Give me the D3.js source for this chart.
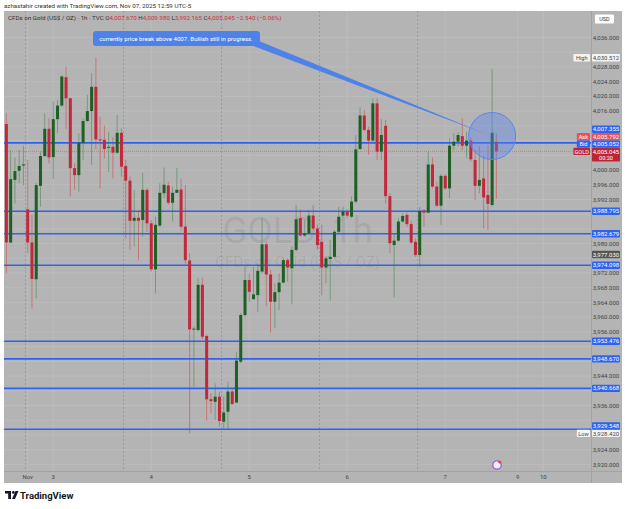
<!DOCTYPE html>
<html>
<head>
<meta charset="utf-8">
<script src="https://cdn.jsdelivr.net/npm/d3@7"></script>
<style>
  body { margin: 0; background: #fff; }
  text { font-family: Roboto, "Noto Sans", sans-serif; }
</style>
</head>
<body>
<script>
// GOLD 1h candles, Oct 31 12:00 -> Nov 7 12:00 (bar index 1..116)
const opens = [4012.5,3980.3,3997.3,3999.8,4001.2,3989.3,3980.3,3970.3,3995.7,4003.8,
  4011.2,4003.5,4013.8,4017.5,4025.2,4019.5,4000.5,3998.6,4007.4,4013.3,
  4016.0,4022.6,4008.3,4008.2,4006.1,4006.3,4004.7,4010.1,4001.1,3997.1,
  3986.2,3987.0,3986.4,3994.6,3985.5,3973.0,3984.9,3993.7,3995.8,3991.1,
  3993.8,3994.7,3984.6,3975.4,3956.7,3956.5,3968.8,3954.9,3937.7,3937.0,
  3938.4,3931.6,3934.3,3939.8,3936.8,3947.9,3960.6,3970.1,3964.9,3966.0,
  3972.4,3979.8,3971.6,3964.2,3966.8,3969.4,3975.5,3973.3,3978.3,3986.9,
  3982.2,3982.8,3987.6,3984.1,3980.5,3973.5,3975.8,3976.4,3983.2,3987.6,
  3988.7,3987.3,3991.4,4005.7,4014.8,4010.9,4008.0,4018.1,4005.0,4012.0,
  3992.9,3979.6,3980.8,3986.0,3987.8,3985.3,3980.5,3976.9,3989.0,3988.4,
  4001.5,3995.5,3990.3,3998.4,3995.0,4006.6,4007.7,4009.2,4006.6,4008.0,
  4002.7,3995.7,3997.7,3993.2,3990.5,4007.67];
const highs = [4015.4,4005.4,4003.4,4005.4,4006.6,4002.7,3987.8,3996.5,4005.0,4015.4,
  4014.0,4018.6,4019.0,4025.8,4028.1,4019.6,4001.8,4010.0,4014.0,4020.4,
  4026.3,4030.512,4014.5,4012.1,4010.4,4008.9,4014.9,4011.3,4002.7,3998.2,
  3994.6,3989.1,3999.3,3995.0,3986.4,3987.3,3996.4,4000.7,3996.8,3995.5,
  4000.5,3997.7,3995.9,3977.4,3957.5,3970.7,3970.7,3955.2,3939.3,3942.0,
  3939.8,3938.4,3942.5,3940.7,3950.6,3961.1,3973.7,3971.9,3973.7,3974.6,
  3986.9,3980.5,3972.8,3969.2,3971.9,3976.0,3976.0,3979.2,3990.5,3989.3,
  3986.4,3989.1,3990.5,3985.1,3985.1,3976.6,3981.0,3983.7,3990.0,3990.0,
  3989.3,3992.8,4009.5,4017.0,4016.3,4011.8,4019.5,4019.5,4013.8,4013.6,
  3993.7,3982.8,3986.9,3988.2,3988.4,3986.2,3981.4,3990.0,3989.3,4005.0,
  4003.4,3996.8,3998.9,3998.9,4008.6,4010.0,4010.4,4014.0,4010.4,4008.9,
  4005.4,4006.5,4004.1,4006.8,4027.4,4009.98];
const lows = [3971.9,3980.1,3990.9,3996.4,3995.9,3977.4,3962.4,3965.1,3990.0,4003.6,
  4001.8,3997.5,4010.0,4017.2,4011.1,3992.8,3994.6,3994.1,4002.7,4013.1,
  4001.4,4005.6,3995.0,4003.2,3999.5,3997.7,4004.5,3998.2,3981.4,3978.3,
  3979.2,3975.4,3981.9,3983.2,3972.4,3966.5,3984.6,3992.3,3990.5,3986.0,
  3993.7,3983.7,3974.6,3928.42,3941.1,3956.1,3954.0,3931.9,3933.9,3932.1,
  3930.3,3929.8,3929.3,3936.1,3936.6,3947.5,3960.1,3964.2,3964.7,3961.5,
  3971.9,3963.0,3955.8,3957.0,3962.0,3969.2,3969.7,3963.5,3977.8,3981.9,
  3981.9,3982.3,3983.7,3978.3,3966.0,3969.2,3964.5,3976.0,3982.8,3986.9,
  3986.9,3986.9,3990.9,4005.4,4010.4,4004.1,4007.7,4002.7,4002.7,3990.9,
  3977.4,3965.4,3980.5,3985.7,3984.6,3979.9,3976.4,3973.7,3984.6,3988.2,
  3995.0,3990.0,3985.1,3994.6,3992.3,4005.4,4006.3,4005.4,4003.2,4002.3,
  3991.8,3993.7,3984.1,3983.7,3990.0,3992.165];
const closes = [3980.3,3997.5,3999.7,4001.1,4001.5,3980.3,3970.4,3995.9,4003.8,4011.2,
  4003.4,4013.8,4017.5,4025.4,4019.5,4000.5,3998.6,4007.4,4013.3,4016.0,
  4022.6,4008.3,4008.0,4005.7,4006.3,4004.7,4010.1,4000.9,3997.1,3986.2,
  3987.0,3986.2,3994.6,3985.5,3973.0,3985.1,3993.8,3996.0,3991.1,3993.8,
  3994.6,3984.6,3975.5,3956.7,3956.9,3968.8,3954.7,3937.7,3937.2,3938.4,
  3931.8,3934.1,3939.8,3936.4,3948.2,3960.6,3970.1,3966.9,3966.2,3972.6,
  3979.8,3971.6,3964.2,3966.8,3969.4,3975.5,3973.5,3978.3,3986.6,3982.2,
  3982.8,3987.6,3984.1,3979.6,3973.5,3976.0,3976.4,3983.2,3987.3,3988.7,
  3987.6,3991.4,4005.6,4014.8,4010.9,4008.0,4018.1,4005.0,4009.5,3992.9,
  3980.1,3980.8,3986.0,3987.5,3985.3,3980.3,3976.9,3988.9,3988.4,4001.5,
  3995.5,3990.3,3998.4,3995.0,4006.6,4007.7,4009.5,4006.6,4008.0,4002.9,
  3995.7,3997.3,3992.5,3990.8,4010.1,4005.045];

const hLevels = [3988.795, 3982.679, 3974.098, 3953.476, 3948.670, 3940.668, 3929.548];
const markedLevel = 4007.355;
const askPrice = 4005.792, bidPrice = 4005.052, lastPrice = 4005.045;
const prevClose = 3977.030;
const highValue = 4030.512, lowValue = 3928.420;
const priceTicks = [3920,3924,3928,3932,3936,3940,3944,3948,3952,3956,3960,3964,3968,3972,3976,3980,
  3984,3988,3992,3996,4000,4004,4008,4012,4016,4020,4024,4028,4032,4036];
const timeLabels = ["Nov", "3", "4", "5", "6", "7", "9", "10"];
const timeLabelBars = [6, 12, 35, 58, 81, 104, 121, 127];
const sessionStarts = [6, 29, 52, 75, 98];

const width = 625, height = 509;
const panel = { left: 4, right: 622, top: 11, bottom: 483 };
const plot = { left: 4, right: 591, top: 11, bottom: 471 };

const svg = d3.select("body").append("svg")
    .attr("width", width)
    .attr("height", height);

svg.append("rect").attr("width", width).attr("height", height).attr("fill", "#fff");

const x = d3.scaleLinear().domain([1, 116]).range([6.4, 496.4]);
const y = d3.scaleLinear().domain([3920, 4036]).range([464.4, 37.5]);

// header
svg.append("text")
    .attr("x", 4).attr("y", 7.5)
    .attr("font-size", 6.2).attr("fill", "#333")
    .text("azhastahir created with TradingView.com, Nov 07, 2025 12:59 UTC-5");

svg.append("rect")
    .attr("x", panel.left).attr("y", panel.top)
    .attr("width", panel.right - panel.left).attr("height", panel.bottom - panel.top)
    .attr("fill", "#b4b4b4");

svg.append("clipPath").attr("id", "plotclip")
    .append("rect")
    .attr("x", plot.left).attr("y", plot.top)
    .attr("width", plot.right - plot.left).attr("height", plot.bottom - plot.top);

const g = svg.append("g").attr("clip-path", "url(#plotclip)");

// grid
g.selectAll(".hgrid").data(priceTicks).enter().append("line")
    .attr("x1", plot.left).attr("x2", plot.right)
    .attr("y1", d => y(d)).attr("y2", d => y(d))
    .attr("stroke", "#bcbcbc").attr("stroke-width", 1);

g.selectAll(".vgrid").data(timeLabelBars).enter().append("line")
    .attr("x1", d => x(d)).attr("x2", d => x(d))
    .attr("y1", plot.top).attr("y2", plot.bottom)
    .attr("stroke", "#bcbcbc").attr("stroke-width", 1);

// session breaks
g.selectAll(".sess").data(sessionStarts).enter().append("line")
    .attr("x1", d => x(d - 0.5)).attr("x2", d => x(d - 0.5))
    .attr("y1", plot.top).attr("y2", plot.bottom)
    .attr("stroke", "#7d9ae2").attr("stroke-width", 1)
    .attr("stroke-dasharray", "2,2");

// watermark
g.append("text")
    .attr("x", (plot.left + plot.right) / 2).attr("y", 243)
    .attr("text-anchor", "middle").attr("font-size", 37)
    .attr("fill", "#000").attr("fill-opacity", 0.08)
    .text("GOLD, 1h");
g.append("text")
    .attr("x", (plot.left + plot.right) / 2).attr("y", 266.5)
    .attr("text-anchor", "middle").attr("font-size", 15)
    .attr("fill", "#000").attr("fill-opacity", 0.08)
    .text("CFDs on Gold (US$ / OZ)");

// horizontal levels
g.selectAll(".level").data(hLevels.concat([markedLevel])).enter().append("line")
    .attr("x1", plot.left).attr("x2", plot.right)
    .attr("y1", d => y(d)).attr("y2", d => y(d))
    .attr("stroke", "#2e63f2").attr("stroke-width", 1.6);

g.append("line")
    .attr("x1", plot.left).attr("x2", plot.right)
    .attr("y1", y(lastPrice)).attr("y2", y(lastPrice))
    .attr("stroke", "#d9585f").attr("stroke-opacity", 0.55)
    .attr("stroke-dasharray", "1,1");

// candles
const bars = d3.range(opens.length).map(i => ({
    i: i + 1, o: opens[i], h: highs[i], l: lows[i], c: closes[i]
}));
const up = d => d.c >= d.o;

g.selectAll(".wick").data(bars).enter().append("line")
    .attr("x1", d => x(d.i)).attr("x2", d => x(d.i))
    .attr("y1", d => y(d.h)).attr("y2", d => y(d.l))
    .attr("stroke", d => up(d) ? "#2e7d32" : "#d32f2f")
    .attr("stroke-opacity", 0.45).attr("stroke-width", 1);

g.selectAll(".body").data(bars).enter().append("rect")
    .attr("x", d => x(d.i) - 1.5).attr("width", 3)
    .attr("y", d => y(Math.max(d.o, d.c)))
    .attr("height", d => Math.max(1, Math.abs(y(d.o) - y(d.c))))
    .attr("fill", d => up(d) ? "#1e5f24" : "#c2283b");

// callout + circle
const tip = [486, 134];
g.append("path")
    .attr("d", `M251,45 L259,41 L${tip[0]},${tip[1]} Z`)
    .attr("fill", "#4f82e8");
g.append("rect")
    .attr("x", 93).attr("y", 31).attr("width", 167).attr("height", 15).attr("rx", 3)
    .attr("fill", "#4f82e8");
g.append("text")
    .attr("x", 176).attr("y", 40.7)
    .attr("text-anchor", "middle").attr("font-size", 6.1).attr("fill", "#fff")
    .text("currently price break above 4007. Bullish still in progress.");

g.append("circle")
    .attr("cx", x(115)).attr("cy", 136).attr("r", 23.5)
    .attr("fill", "#5b84f0").attr("fill-opacity", 0.4)
    .attr("stroke", "#5b84f0").attr("stroke-width", 1);

// events icon
g.append("circle").attr("cx", 497).attr("cy", 465).attr("r", 4.2)
    .attr("fill", "#eee").attr("stroke", "#9c5bd6").attr("stroke-width", 1.3);
g.append("circle").attr("cx", 499.8).attr("cy", 462.2).attr("r", 1.4).attr("fill", "#e53950");

// legend
const legend = svg.append("text").attr("x", 8).attr("y", 20).attr("font-size", 6.2).attr("fill", "#333");
legend.append("tspan").text("CFDs on Gold (US$ / OZ) · 1h · TVC  ");
[["O", "4,007.670"], ["H", "4,009.980"], ["L", "3,992.165"], ["C", "4,005.045"]].forEach(p => {
    legend.append("tspan").text(p[0]);
    legend.append("tspan").attr("fill", "#d1303d").text(p[1] + " ");
});
legend.append("tspan").attr("fill", "#d1303d").text("−2.540 (−0.06%)");

// axes separators
svg.append("line").attr("x1", plot.right + 0.5).attr("x2", plot.right + 0.5)
    .attr("y1", panel.top).attr("y2", panel.bottom).attr("stroke", "#a3a3a3");
svg.append("line").attr("x1", panel.left).attr("x2", panel.right)
    .attr("y1", plot.bottom + 0.5).attr("y2", plot.bottom + 0.5).attr("stroke", "#a3a3a3");

// price labels on axis (pushed upward when they collide)
const priceLabels = [
    { v: highValue, bg: "#f4f4f4", fg: "#444", tag: "High" },
    { v: markedLevel, bg: "#2e63f2", fg: "#fff" },
    { v: askPrice, bg: "#e2545a", fg: "#fff", tag: "Ask" },
    { v: bidPrice, bg: "#2e63f2", fg: "#fff", tag: "Bid" },
    { v: lastPrice, bg: "#be2534", fg: "#fff", tag: "GOLD", sub: "00:20" },
    { v: prevClose, bg: "#555", fg: "#fff" },
    { v: lowValue, bg: "#f4f4f4", fg: "#444", tag: "Low" }
].concat(hLevels.map(v => ({ v: v, bg: "#2e63f2", fg: "#fff" })));

const lh = 7.4;
priceLabels.forEach(d => { d.y = y(d.v); d.h = d.sub ? lh * 1.85 : lh; });
priceLabels.sort((a, b) => b.y - a.y);
let prevTop = Infinity;
priceLabels.forEach(d => {
    const bottom = d.y - lh / 2 + d.h;
    if (bottom > prevTop) d.y -= bottom - prevTop;
    prevTop = d.y - lh / 2;
});

// price ticks, skipping the ones hidden under a price label
const axisX = 606;
const freeTicks = priceTicks.filter(t => priceLabels.every(d =>
    y(t) < d.y - lh / 2 - 3.2 || y(t) > d.y - lh / 2 + d.h + 3.2));
svg.selectAll(".ptick").data(freeTicks).enter().append("text")
    .attr("x", axisX).attr("y", d => y(d) + 2.1)
    .attr("text-anchor", "middle").attr("font-size", 6).attr("fill", "#444")
    .text(d => d3.format(",.3f")(d));

// time labels
svg.selectAll(".ttick").data(timeLabelBars).enter().append("text")
    .attr("x", d => x(d)).attr("y", 478.5)
    .attr("text-anchor", "middle").attr("font-size", 6).attr("fill", "#444")
    .text((d, i) => timeLabels[i]);

// USD box
svg.append("rect").attr("x", 595).attr("y", 14.5).attr("width", 19).attr("height", 9)
    .attr("fill", "#fff").attr("rx", 1);
svg.append("text").attr("x", 604.5).attr("y", 21).attr("text-anchor", "middle")
    .attr("font-size", 5.5).attr("fill", "#333").text("USD");

const pl = svg.selectAll(".plabel").data(priceLabels).enter().append("g");
pl.append("rect")
    .attr("x", 592).attr("y", d => d.y - lh / 2)
    .attr("width", 28).attr("height", d => d.h).attr("rx", 1)
    .attr("fill", d => d.bg);
pl.append("text")
    .attr("x", axisX).attr("y", d => d.y + 2.1)
    .attr("text-anchor", "middle").attr("font-size", 6).attr("fill", d => d.fg)
    .text(d => d3.format(",.3f")(d.v));
pl.filter(d => d.sub).append("text")
    .attr("x", axisX).attr("y", d => d.y + 2.1 + lh * 0.85)
    .attr("text-anchor", "middle").attr("font-size", 5.6).attr("fill", d => d.fg)
    .text(d => d.sub);

const tags = pl.filter(d => d.tag);
tags.append("rect")
    .attr("x", d => 590 - d.tag.length * 3.4 - 3).attr("y", d => d.y - lh / 2)
    .attr("width", d => d.tag.length * 3.4 + 3).attr("height", lh).attr("rx", 1)
    .attr("fill", d => d.bg);
tags.append("text")
    .attr("x", d => 590 - (d.tag.length * 3.4 + 3) / 2).attr("y", d => d.y + 2.1)
    .attr("text-anchor", "middle").attr("font-size", 5.6).attr("fill", d => d.fg)
    .text(d => d.tag);

// TradingView logo
const logo = svg.append("g").attr("transform", "translate(5,491)");
logo.append("path").attr("d", "M0,0 H6 V8 H3.2 V2.6 H0 Z").attr("fill", "#131722");
logo.append("circle").attr("cx", 8.3).attr("cy", 1.4).attr("r", 1.4).attr("fill", "#131722");
logo.append("path").attr("d", "M10.5,0 H13.5 L10,8 H7 Z").attr("fill", "#131722");
svg.append("text").attr("x", 20).attr("y", 498.5)
    .attr("font-size", 9.5).attr("font-weight", "bold").attr("fill", "#131722")
    .text("TradingView");
</script>
</body>
</html>
